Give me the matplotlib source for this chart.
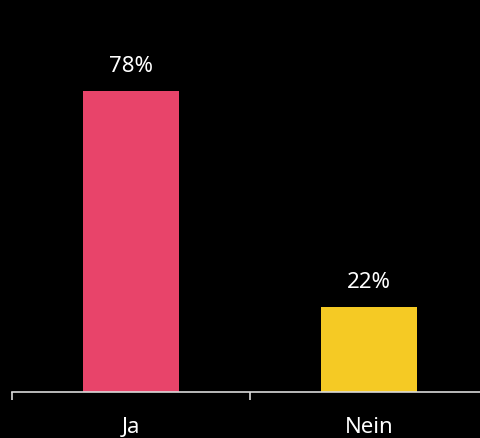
import matplotlib.pyplot as plt

plt.rcParams['font.family'] = ['Noto Sans', 'DejaVu Sans']

categories = ["Ja", "Nein"]
values = [78, 22]
colors = ["#e8446a", "#f5ca24"]

fig = plt.figure(figsize=(4.81, 4.39), dpi=100, facecolor="black")
ax = fig.add_axes([12 / 481, (439 - 393) / 439, 476 / 481, 386 / 439])
ax.set_facecolor("black")

x = range(len(categories))
bars = ax.bar(x, values, width=0.4, color=colors)
for b, v in zip(bars, values):
    ax.annotate(f"{v}%", (b.get_x() + b.get_width() / 2, v), xytext=(0, 11),
                textcoords="offset points", ha="center", va="bottom",
                color="white", fontsize=16)

ax.set_xlim(-0.5, len(categories) - 0.5)
ax.set_ylim(0, 100)
ax.set_xticks([i - 0.5 for i in range(len(categories) + 1)])
ax.set_xticklabels([])
ax.set_xticks(list(x), minor=True)
ax.set_xticklabels(categories, minor=True, color="white", fontsize=16)
ax.tick_params(axis="x", which="major", length=6, color="#d9d9d9", width=1.2)
ax.tick_params(axis="x", which="minor", length=0, pad=17)
ax.set_yticks([])
for s in ["top", "right", "left"]:
    ax.spines[s].set_visible(False)
ax.spines["bottom"].set_color("#d9d9d9")
ax.spines["bottom"].set_linewidth(1.2)

fig.savefig("out.png", dpi=100, facecolor="black")
